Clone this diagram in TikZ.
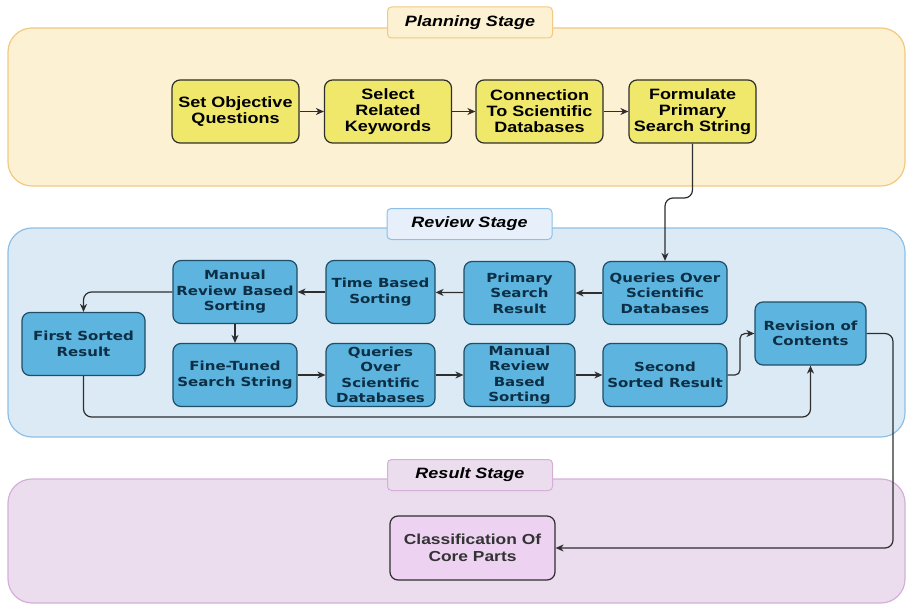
\documentclass[tikz,border=0pt]{standalone}
\usepackage{fontspec}
\setmainfont{Liberation Sans}[FakeStretch=1.2]
\newfontfamily\revfont{DejaVu Sans}[FakeStretch=1.2]
\usepackage{tikz}
\usetikzlibrary{arrows.meta}
\definecolor{planfill}{HTML}{FDF1D3}
\definecolor{planedge}{HTML}{F2C97F}
\definecolor{planyellow}{HTML}{F0E86A}
\definecolor{revfill}{HTML}{DCEAF6}
\definecolor{revedge}{HTML}{8DC0E6}
\definecolor{revlabel}{HTML}{E7F0FA}
\definecolor{revblue}{HTML}{5DB4DE}
\definecolor{revdark}{HTML}{1F4E66}
\definecolor{revtext}{HTML}{0D2F45}
\definecolor{resfill}{HTML}{EBDCEE}
\definecolor{resedge}{HTML}{D4B0D8}
\definecolor{respink}{HTML}{EDD2F2}
\definecolor{linecol}{HTML}{2E2E2E}
\tikzset{
 stage/.style={rounded corners=24pt, line width=1.2pt},
 stagelabel/.style={rounded corners=4pt, line width=1pt, minimum width=165pt, minimum height=31pt, inner sep=0pt, font=\fontsize{15}{17}\selectfont\bfseries\itshape},
 planbox/.style={draw=linecol, fill=planyellow, rounded corners=8pt, line width=1.2pt, minimum width=127pt, minimum height=63pt, inner sep=0pt, align=center, font=\fontsize{15}{16}\selectfont\bfseries},
 revbox/.style={draw=revdark, fill=revblue, text=revtext, rounded corners=8pt, line width=1.2pt, minimum height=63pt, inner sep=0pt, align=center, font=\revfont\fontsize{12.5}{15.5}\selectfont\bfseries},
 conn/.style={draw=linecol, line width=1.2pt, -{Stealth[length=8pt, width=7pt, inset=2.5pt]}},
}

\begin{document}
\begin{tikzpicture}[x=1pt, y=-1pt]
\useasboundingbox (0,0) rectangle (907,604);
\filldraw[stage, fill=planfill, draw=planedge] (8,28) rectangle (905,186);
\filldraw[stage, fill=revfill, draw=revedge] (8,228) rectangle (905,437);
\filldraw[stage, fill=resfill, draw=resedge] (8,479) rectangle (905,603);
\node[stagelabel, fill=planfill, draw=planedge] (planlbl) at (470,22.5) {Planning Stage};
\node[stagelabel, fill=revlabel, draw=revedge] (revlbl) at (469.5,224) {Review Stage};
\node[stagelabel, fill=resfill, draw=resedge] (reslbl) at (470,475) {Result Stage};

\node[planbox] (obj) at (235.5,111.5) {Set Objective\\Questions};
\node[planbox] (keys) at (388,111.5) {Select\\Related\\Keywords};
\node[planbox] (conn) at (539.5,111.5) {Connection\\To Scientific\\Databases};
\node[planbox] (fps) at (692.5,111.5) {Formulate\\Primary\\Search String};

\node[revbox, minimum width=124pt] (qtop) at (665,293) {Queries Over\\Scientific\\Databases};
\node[revbox, minimum width=111pt] (prim) at (519.5,293) {Primary\\Search\\Result};
\node[revbox, minimum width=109pt] (time) at (380.5,292) {Time Based\\Sorting};
\node[revbox, minimum width=124pt] (mtop) at (235,292) {Manual\\Review Based\\Sorting};
\node[revbox, minimum width=123pt] (first) at (83.5,344) {First Sorted\\Result};
\node[revbox, minimum width=124pt] (fine) at (235,375) {Fine-Tuned\\Search String};
\node[revbox, minimum width=109pt] (qbot) at (380.5,375) {Queries\\Over\\Scientific\\Databases};
\node[revbox, minimum width=111pt] (mbot) at (519.5,375) {Manual\\Review\\Based\\Sorting};
\node[revbox, minimum width=124pt] (second) at (665,375) {Second\\Sorted Result};
\node[revbox, minimum width=111pt] (rev) at (810.5,333.5) {Revision of\\Contents};

\node[draw=linecol, fill=respink, text=black!80, rounded corners=8pt, line width=1.2pt, minimum width=165pt, minimum height=64pt, inner sep=0pt, align=center, font=\fontsize{14.5}{17}\selectfont\bfseries] (classif) at (472.5,548) {Classification Of\\Core Parts};

\foreach \a/\b in {obj/keys, keys/conn, conn/fps, qtop/prim, prim/time, time/mtop, mtop/fine, fine/qbot, qbot/mbot, mbot/second}
 \draw[conn] (\a) -- (\b);
\draw[conn, rounded corners=8pt] (fps.south) -- (692.5,198) -- (665,198) -- (qtop.north);
\draw[conn, rounded corners=8pt] (mtop.west) -- (83.5,292) -- (first.north);
\draw[conn, rounded corners=8pt] (first.south) -- (83.5,417) -- (810.5,417) -- (rev.south);
\draw[conn, rounded corners=5pt] (second.east) -- (740,375) -- (740,333.5) -- (rev.west);
\draw[conn, rounded corners=8pt] (rev.east) -- (893,333.5) -- (893,548) -- (classif.east);
\end{tikzpicture}
\end{document}
